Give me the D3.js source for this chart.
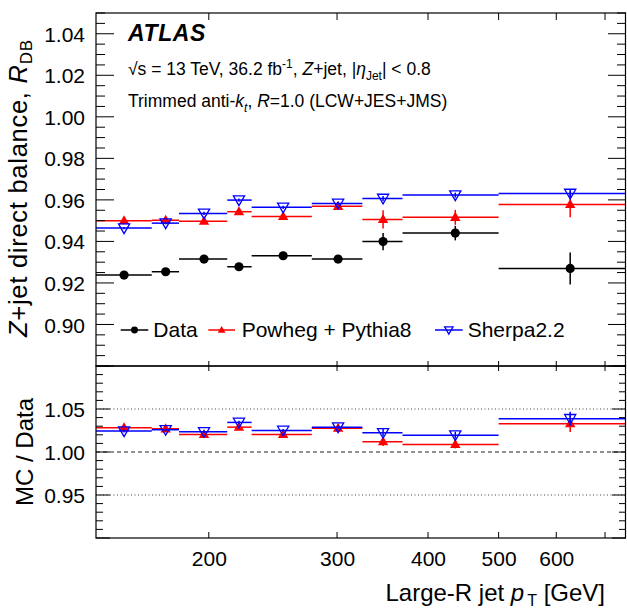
<!DOCTYPE html>
<html><head><meta charset="utf-8">
<script src="https://cdn.jsdelivr.net/npm/d3@7"></script>
<style>body{margin:0;background:#fff}svg{display:block;font-family:"Liberation Sans",Arial,sans-serif}</style>
</head><body>
<svg id="c" width="627" height="611"></svg>
<script>
// ---- data ----
const binEdges = [140, 167, 182, 212, 229, 277, 325, 369, 500, 748];
const markerPt = [153, 174.5, 197, 220, 253, 301, 347, 436, 627];
const dataVal = [0.9238, 0.9254, 0.9315, 0.9278, 0.9331, 0.9315, 0.9399, 0.9440, 0.9270];
const dataErr = [0.0010, 0.0010, 0.0012, 0.0016, 0.0010, 0.0018, 0.0042, 0.0035, 0.0077];
const powhegVal = [0.9500, 0.9502, 0.9497, 0.9543, 0.9520, 0.9569, 0.9506, 0.9516, 0.9578];
const powhegErr = [0.0008, 0.0008, 0.0010, 0.0012, 0.0010, 0.0012, 0.0044, 0.0036, 0.0062];
const sherpaVal = [0.9464, 0.9488, 0.9535, 0.9599, 0.9564, 0.9583, 0.9607, 0.9623, 0.9631];
const sherpaErr = [0.0006, 0.0006, 0.0008, 0.0008, 0.0008, 0.0008, 0.0012, 0.0012, 0.0020];
const powhegRatio = [1.0282, 1.0270, 1.0204, 1.0289, 1.0204, 1.0277, 1.0119, 1.0087, 1.0329];
const powhegRatioErr = [0.0020, 0.0020, 0.0020, 0.0025, 0.0020, 0.0025, 0.0050, 0.0045, 0.0097];
const sherpaRatio = [1.0243, 1.0259, 1.0235, 1.0344, 1.0251, 1.0289, 1.0224, 1.0196, 1.0387];
const sherpaRatioErr = [0.0015, 0.0015, 0.0015, 0.0020, 0.0015, 0.0020, 0.0045, 0.0040, 0.0080];
const xTicks = [200, 300, 400, 500, 600, 700];
const xTickLabels = ["200", "300", "400", "500", "600", ""];
const yTopTicks = [0.90, 0.92, 0.94, 0.96, 0.98, 1.00, 1.02, 1.04];
const yBotTicks = [0.95, 1.00, 1.05];

const svg = d3.select("#c");
const L = 96, R = 626, T = 13, MID = 366, B = 538;
const x = d3.scaleLog().domain([140, 748]).range([L, R]);
const yT = d3.scaleLinear().domain([0.88, 1.05]).range([MID, T]);
const yB = d3.scaleLinear().domain([0.9, 1.1]).range([B, MID]);

const RED = "#ff0000", BLUE = "#0000ff", BLACK = "#000";

// clip paths
const defs = svg.append("defs");
defs.append("clipPath").attr("id","ct").append("rect").attr("x",L).attr("y",T).attr("width",R-L).attr("height",MID-T);
defs.append("clipPath").attr("id","cb").append("rect").attr("x",L).attr("y",MID).attr("width",R-L).attr("height",B-MID);

// bottom reference lines
const gB = svg.append("g").attr("clip-path","url(#cb)");
[[1.05,"1,2.5","#444"],[0.95,"1,2.5","#444"],[1.00,"4,3","#222"]].forEach(([v,da,c])=>{
  gB.append("line").attr("x1",L).attr("x2",R).attr("y1",yB(v)).attr("y2",yB(v))
    .attr("stroke",c).attr("stroke-width",1).attr("stroke-dasharray",da);
});

function drawSeries(g, y, vals, errs, color, marker) {
  const idx = d3.range(vals.length);
  g.selectAll(null).data(idx).enter().append("line")
    .attr("x1", i=>x(binEdges[i])).attr("x2", i=>x(binEdges[i+1]))
    .attr("y1", i=>y(vals[i])).attr("y2", i=>y(vals[i]))
    .attr("stroke", color).attr("stroke-width", 1.5);
  g.selectAll(null).data(idx).enter().append("line")
    .attr("x1", i=>x(markerPt[i])).attr("x2", i=>x(markerPt[i]))
    .attr("y1", i=>y(vals[i]-errs[i])).attr("y2", i=>y(vals[i]+errs[i]))
    .attr("stroke", color).attr("stroke-width", 1.5);
  const m = g.selectAll(null).data(idx).enter().append("g")
    .attr("transform", i=>`translate(${x(markerPt[i])},${y(vals[i])})`);
  drawMarker(m, color, marker, 1);
}
function drawMarker(sel, color, marker, s) {
  if (marker === "circle") {
    sel.append("circle").attr("r", 4.6*s).attr("fill", color);
  } else if (marker === "up") {
    sel.append("path").attr("d", `M0,${-5.5*s}L${5.2*s},${3.6*s}L${-5.2*s},${3.6*s}Z`).attr("fill", color);
  } else {
    sel.append("path").attr("d", `M0,${5.5*s}L${5.6*s},${-4.2*s}L${-5.6*s},${-4.2*s}Z`)
      .attr("fill", "none").attr("stroke", color).attr("stroke-width", 1.3);
  }
}

const gT = svg.append("g").attr("clip-path","url(#ct)");
drawSeries(gT, yT, dataVal, dataErr, BLACK, "circle");
drawSeries(gT, yT, powhegVal, powhegErr, RED, "up");
drawSeries(gT, yT, sherpaVal, sherpaErr, BLUE, "down");

drawSeries(gB, yB, powhegRatio, powhegRatioErr, RED, "up");
drawSeries(gB, yB, sherpaRatio, sherpaRatioErr, BLUE, "down");

// frames
svg.append("rect").attr("x",L).attr("y",T).attr("width",R-L-0.5).attr("height",MID-T).attr("fill","none").attr("stroke","#000").attr("stroke-width",1.2);
svg.append("rect").attr("x",L).attr("y",MID).attr("width",R-L-0.5).attr("height",B-MID).attr("fill","none").attr("stroke","#000").attr("stroke-width",1.2);

function yTicksAxis(scale, majorStep, minorStep, lo, hi, majLen, minLen) {
  const g = svg.append("g");
  const n = Math.round((hi - lo)/minorStep);
  for (let k = 0; k <= n; k++) {
    const v = lo + k*minorStep;
    const isMaj = Math.abs(v/majorStep - Math.round(v/majorStep)) < 1e-6;
    const len = isMaj ? majLen : minLen;
    const yy = scale(v);
    g.append("line").attr("x1",L).attr("x2",L+len).attr("y1",yy).attr("y2",yy).attr("stroke","#000").attr("stroke-width",1);
    g.append("line").attr("x1",R).attr("x2",R-len).attr("y1",yy).attr("y2",yy).attr("stroke","#000").attr("stroke-width",1);
  }
}
yTicksAxis(yT, 0.02, 0.005, 0.88, 1.05, 18, 9);
yTicksAxis(yB, 0.05, 0.01, 0.90, 1.10, 14, 7);

const axT = svg.append("g").attr("transform",`translate(${L-8},0)`)
  .call(d3.axisLeft(yT).tickValues(yTopTicks).tickFormat(d3.format(".2f")).tickSize(0));
const axB = svg.append("g").attr("transform",`translate(${L-8},0)`)
  .call(d3.axisLeft(yB).tickValues(yBotTicks).tickFormat(d3.format(".2f")).tickSize(0));
[axT, axB].forEach(a=>{
  a.select(".domain").remove();
  a.selectAll("text").attr("font-size",21).attr("font-family","Liberation Sans, Arial").attr("fill","#000").attr("dy","0.36em");
});

const gx = svg.append("g");
xTicks.forEach(t=>{
  const xx = x(t);
  gx.append("line").attr("x1",xx).attr("x2",xx).attr("y1",T).attr("y2",T+7).attr("stroke","#000");
  gx.append("line").attr("x1",xx).attr("x2",xx).attr("y1",MID-5).attr("y2",MID+5).attr("stroke","#000");
  gx.append("line").attr("x1",xx).attr("x2",xx).attr("y1",B).attr("y2",B-6).attr("stroke","#000");
});
const axX = svg.append("g").attr("transform",`translate(0,${B+10})`)
  .call(d3.axisBottom(x).tickValues(xTicks).tickFormat((d,i)=>xTickLabels[i]).tickSize(0));
axX.select(".domain").remove();
axX.selectAll("text").attr("font-size",21).attr("font-family","Liberation Sans, Arial").attr("fill","#000");

// axis titles
const xt = svg.append("text").attr("x",605).attr("y",601).attr("text-anchor","end").attr("font-size",24);
xt.append("tspan").text("Large-R jet ");
xt.append("tspan").attr("font-style","italic").text("p");
xt.append("tspan").attr("font-size",16).attr("dy",5).attr("dx",3).text("T");
xt.append("tspan").attr("dy",-5).text(" [GeV]");

const yt = svg.append("text").attr("transform","translate(27,188.5) rotate(-90)").attr("text-anchor","middle").attr("font-size",25.5)
  .attr("textLength",297).attr("lengthAdjust","spacing");
yt.append("tspan").attr("font-style","italic").text("Z");
yt.append("tspan").text("+jet direct balance, ");
yt.append("tspan").attr("font-style","italic").text("R");
yt.append("tspan").attr("font-size",17).attr("dy",5).text("DB");

svg.append("text").attr("transform","translate(33,452) rotate(-90)").attr("text-anchor","middle").attr("font-size",24).text("MC / Data");

// annotations
svg.append("text").attr("x",128).attr("y",41).attr("font-size",23).attr("font-weight","bold").attr("font-style","italic").attr("letter-spacing",0.6).text("ATLAS");
const t1 = svg.append("text").attr("x",128).attr("y",75).attr("font-size",17.5);
t1.append("tspan").text("√s = 13 TeV, 36.2 fb");
t1.append("tspan").attr("font-size",12).attr("dy",-7).text("-1");
t1.append("tspan").attr("dy",7).text(", ");
t1.append("tspan").attr("font-style","italic").text("Z");
t1.append("tspan").text("+jet, |");
t1.append("tspan").attr("font-style","italic").text("η");
t1.append("tspan").attr("font-size",12).attr("dy",5).text("Jet");
t1.append("tspan").attr("dy",-5).text("| < 0.8");
const t2 = svg.append("text").attr("x",128).attr("y",107).attr("font-size",17.5);
t2.append("tspan").text("Trimmed anti-");
t2.append("tspan").attr("font-style","italic").text("k");
t2.append("tspan").attr("font-size",12).attr("font-style","italic").attr("dy",5).text("t");
t2.append("tspan").attr("dy",-5).text(", ");
t2.append("tspan").attr("font-style","italic").text("R");
t2.append("tspan").text("=1.0 (LCW+JES+JMS)");

// legend
const legend = [
  {label:"Data", color:BLACK, marker:"circle", x0:120.7, x1:148.3, tx:153.3},
  {label:"Powheg + Pythia8", color:RED, marker:"up", x0:208.3, x1:235, tx:241.7},
  {label:"Sherpa2.2", color:BLUE, marker:"down", x0:435, x1:462.7, tx:467.7}
];
const ly = 330;
legend.forEach(d=>{
  svg.append("line").attr("x1",d.x0).attr("x2",d.x1).attr("y1",ly).attr("y2",ly).attr("stroke",d.color).attr("stroke-width",1.5);
  const m = svg.append("g").attr("transform",`translate(${(d.x0+d.x1)/2},${ly})`);
  drawMarker(m, d.color, d.marker, 0.75);
  svg.append("text").attr("x",d.tx).attr("y",ly+7).attr("font-size",21).text(d.label);
});
</script>
</body></html>
